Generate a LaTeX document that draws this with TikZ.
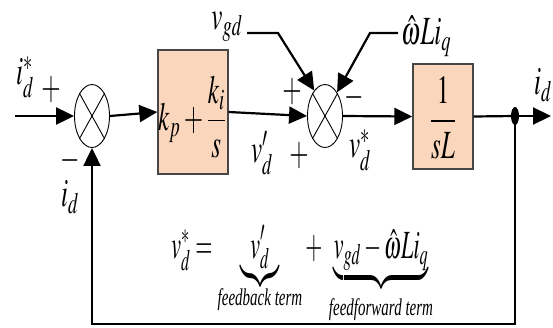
\documentclass[tikz,border=0pt]{standalone}
\usepackage{mathptmx}
\usepackage{fontspec}
\setmainfont{Liberation Serif}
\usepackage{graphicx}
\usetikzlibrary{arrows.meta,shapes.geometric}
\definecolor{boxfill}{RGB}{250,215,188}
\definecolor{boxedge}{RGB}{70,70,70}
\newcommand{\tl}[1]{\scalebox{1}[1.6]{#1}}
\newcommand{\tln}[1]{\scalebox{0.88}[1.6]{#1}}
\begin{document}
\begin{tikzpicture}[x=1pt,y=-1pt,
  sig/.style={line width=2.2pt},
  arr/.style={sig,-{Triangle[length=18pt,width=17pt]}},
  sumj/.style={ellipse,draw,line width=0.9pt,minimum width=35pt,minimum height=63pt,inner sep=0pt},
  blk/.style={draw=boxedge,fill=boxfill,line width=1.4pt,inner sep=0pt},
  lbl/.style={inner sep=0pt,font=\fontsize{25}{29}\selectfont},
  small/.style={inner sep=0pt,font=\fontsize{15}{18}\selectfont\itshape}]
\useasboundingbox (0,0) rectangle (553,327);
% blocks
\node[sumj] (s1) at (92,116) {};
\node[sumj] (s2) at (325,116) {};
\node[blk,minimum width=70pt,minimum height=124pt] (pi) at (193,112) {};
\node[lbl] (pit) at (192,117) {\tl{$\displaystyle k_p+\frac{k_i}{s}$}};
\node[blk,minimum width=60pt,minimum height=105pt] (g) at (443,116.5) {};
\node[lbl] (gt) at (443,118) {\tl{$\displaystyle\frac{1}{sL}$}};
\node[fill=black,ellipse,minimum width=8pt,minimum height=18pt,inner sep=0pt] (dot) at (515,116) {};
% crosses
\foreach \s in {s1,s2}{
  \draw[line width=0.9pt] (\s.61) -- (\s.241);
  \draw[line width=0.9pt] (\s.119) -- (\s.-61);
}
% coordinates
\coordinate (in) at (15,116);
\coordinate (out) at (551,116);
\coordinate (fbc) at (515,324);
\coordinate (vgda) at (247,33);
\coordinate (vgdb) at (278,33);
\coordinate (wa) at (398,33);
\coordinate (wb) at (370,33);
% connectors
\draw[arr] (in) -- (s1.west);
\draw[arr] (s1.east) -- (pi.west);
\draw[arr] (pi.east) -- (s2.west);
\draw[arr] (s2.east) -- (g.west);
\draw[sig] (g.east) -- (dot.center);
\draw[arr] (dot.center) -- (out);
\draw[arr] (dot.center) -- (fbc) -| (s1.south);
\draw[arr] (vgda) -- (vgdb) -- (s2.113);
\draw[arr] (wa) -- (wb) -- (s2.63);
% labels
\node[lbl] (lid) at (25,77) {\tl{$i_d^*$}};
\node[lbl] (lp1) at (51,90) {\tl{$+$}};
\node[lbl] (lm1) at (70,160) {\tl{$-$}};
\node[lbl] (lfb) at (70,197) {\tl{$i_d$}};
\node[lbl] (lvgd) at (227,27) {\tl{$v_{gd}$}};
\node[lbl,anchor=west] (lw) at (401,36) {\tl{$\hat{\omega}Li_q$}};
\node[lbl] (lp2) at (292,92) {\tl{$+$}};
\node[lbl] (lm2) at (354,97) {\tl{$-$}};
\node[lbl] (lvp) at (262,153) {\tl{$v'_d$}};
\node[lbl] (lp3) at (299,156) {\tl{$+$}};
\node[lbl] (lvs) at (360,150) {\tl{$v_d^*$}};
\node[lbl] (lout) at (543,85) {\tl{$i_d$}};
% equation
\node[lbl,anchor=base] (e1) at (192,258) {\tln{$v_d^*=$}};
\node[lbl,anchor=base] (e2) at (260,258) {\tln{$\underbrace{v'_d}$}};
\node[lbl,anchor=base] (e3) at (314,258) {\tln{$+$}};
\node[lbl,anchor=base] (e4) at (381,258) {\tln{$\underbrace{v_{gd}-\hat{\omega}Li_q}$}};
\node[small] (t1) at (260,300) {\tl{feedback term}};
\node[small] (t2) at (381,310) {\tl{feedforward term}};
\end{tikzpicture}
\end{document}
